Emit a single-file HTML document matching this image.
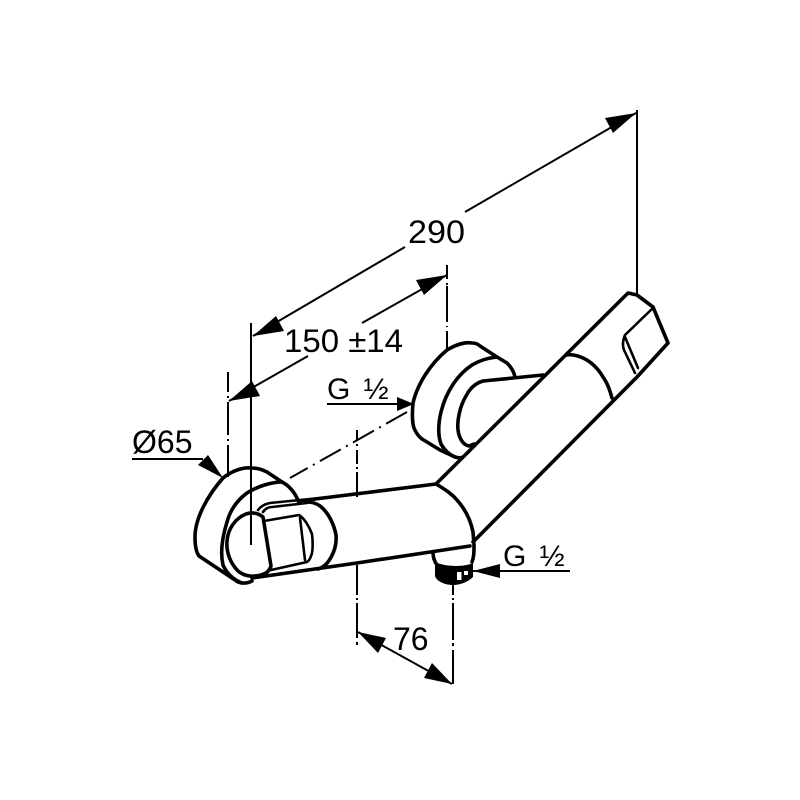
<!DOCTYPE html>
<html>
<head>
<meta charset="utf-8">
<style>
html,body{margin:0;padding:0;background:#fff}
svg{display:block}
text{font-family:"Liberation Sans",sans-serif;fill:#000}
.b{fill:none;stroke:#000;stroke-width:3.6;stroke-linecap:round;stroke-linejoin:round}
.m{fill:none;stroke:#000;stroke-width:2.6;stroke-linecap:round;stroke-linejoin:round}
.t{fill:none;stroke:#000;stroke-width:2}
</style>
</head>
<body>
<svg width="800" height="800" viewBox="0 0 800 800" xmlns="http://www.w3.org/2000/svg">
<!-- Left flange -->
<path class="b" d="M223 478C208 495 195 518 195 537C195 546 196 552 199 556L217 568L238 582C243 584 248 583 252 581"/>
<path class="b" d="M223 478C233 470 244 467 252 468C258 468 263 470 267 472L282 482C290 486 296 494 299 503"/>
<path class="b" d="M282 482C272 482 258 486 247 493C236 501 230 511 227 522C222 538 220 552 223 565C227 574 234 580 242 583"/>
<path class="b" d="M263 517C258 513 252 512 246 514C236 518 228 528 227 541C226 553 231 564 238 571C246 578 258 577 266 573C269 571 270 569 271 566L263 517Z"/>
<path class="m" d="M258 510C261 506 265 504 270 503L340 496M263 512C265 509 268 507 272 507L307 503"/>
<path class="b" d="M299 501L436 484"/>
<path class="b" d="M252 578L357 563L470 546"/>
<path class="b" d="M307 502C312 502 316 503 320 506C328 512 334 524 336 535C337 546 333 555 328 562C325 566 322 568 318 569"/>
<path class="m" d="M264 521L299 515C304 518 309 526 312 534C313 542 313 552 311 556C310 559 309 561 307 562L271 570"/>
<path class="m" d="M300 518L305 560"/>
<!-- Centre line left -->
<path class="t" d="M251 323V545"/>
<!-- Right flange -->
<path class="b" d="M447 350C457 344 466 342 472 343C476 343 478 344 480 346L497 357L507 363C512 368 514 372 515 377"/>
<path class="b" d="M447 350C430 364 417 385 413 403C412 414 412 422 414 428C416 433 418 436 422 439L440 450L455 457C458 458 461 458 463 457"/>
<path class="b" d="M497 357C488 358 480 360 472 365C457 375 446 392 441 412C438 424 438 436 441 444C445 451 450 455 455 457"/>
<path class="b" d="M543 375L483 381C476 383 470 388 466 396C460 406 457 420 458 430C459 438 463 445 469 446L474 444"/>
<!-- Long body -->
<path class="b" d="M436 484L628 293L637 295L653 307L668 343L637 377L473 542"/>
<path class="m" d="M653 308L625 335C623 340 622 345 624 350L635 373"/>
<path class="m" d="M625 337L638 368"/>
<path class="b" d="M566 355C573 354 578 356 583 358C592 362 599 370 603 377C608 384 610 391 612 398"/>
<path class="b" d="M436 484C446 490 452 494 457 500C466 510 471 522 473 532L474 545C474 552 474 557 472 562"/>
<!-- Nozzle -->
<path class="b" d="M433 552C433 557 434 561 437 565"/>
<path d="M435 562C443 566 462 568 473 563L473 577C468 582 460 585 453 585C446 585 437 582 435 576Z" fill="#000"/>
<rect x="457" y="572" width="4.5" height="8" fill="#fff"/>
<rect x="464" y="571" width="4" height="4" fill="#fff"/>
<!-- Extension lines -->
<path class="t" d="M637 110V295"/>
<path class="t" d="M447 265V279M447 283V285M447 286V322M447 326V327M447 331V350"/>
<path class="t" d="M228 372V392M228 396V398M228 402V435M228 439V441M228 445V477"/>
<path class="t" d="M357 430V440M357 444V446M357 450V464M357 467V469M357 472V497"/>
<path class="t" d="M357 565V595M357 598V600M357 603V638M357 642V645"/>
<path class="t" d="M453 585V595M453 598V600M453 603V640M453 643V646M453 650V684"/>
<path class="t" stroke-dasharray="24 6 2 6" d="M407 412L290 478"/>
<!-- 290 dim -->
<path class="t" d="M253 336L405 247M465 212L636 113"/>
<polygon points="253,336 276,316 284,331" fill="#000"/>
<polygon points="636,113 613,133 605,118" fill="#000"/>
<!-- 150 dim -->
<path class="t" d="M229 401L308 356M362 323L447 275"/>
<polygon points="229,401 252,381 260,396" fill="#000"/>
<polygon points="447,275 424,295 416,280" fill="#000"/>
<!-- 76 dim -->
<path class="t" d="M358 632L452 684"/>
<polygon points="358,632 386,638 378,653" fill="#000"/>
<polygon points="452,684 424,678 432,663" fill="#000"/>
<!-- Labels -->
<text x="408" y="243" font-size="32" textLength="57" lengthAdjust="spacingAndGlyphs">290</text>
<text x="284" y="352" font-size="32" textLength="119" lengthAdjust="spacingAndGlyphs">150 ±14</text>
<text x="327" y="399" font-size="30" word-spacing="5">G ½</text>
<path class="t" d="M327 404H400"/>
<polygon points="414,404 397,397 397,411" fill="#000"/>
<text x="132" y="453" font-size="32">Ø65</text>
<path class="t" d="M132 459H203"/>
<polygon points="223,478 198,465 208,455" fill="#000"/>
<text x="503" y="566" font-size="30" word-spacing="5">G ½</text>
<path class="t" d="M473 571H570"/>
<polygon points="473,571 500,564 500,578" fill="#000"/>
<text x="393" y="650" font-size="32">76</text>
</svg>
</body>
</html>
